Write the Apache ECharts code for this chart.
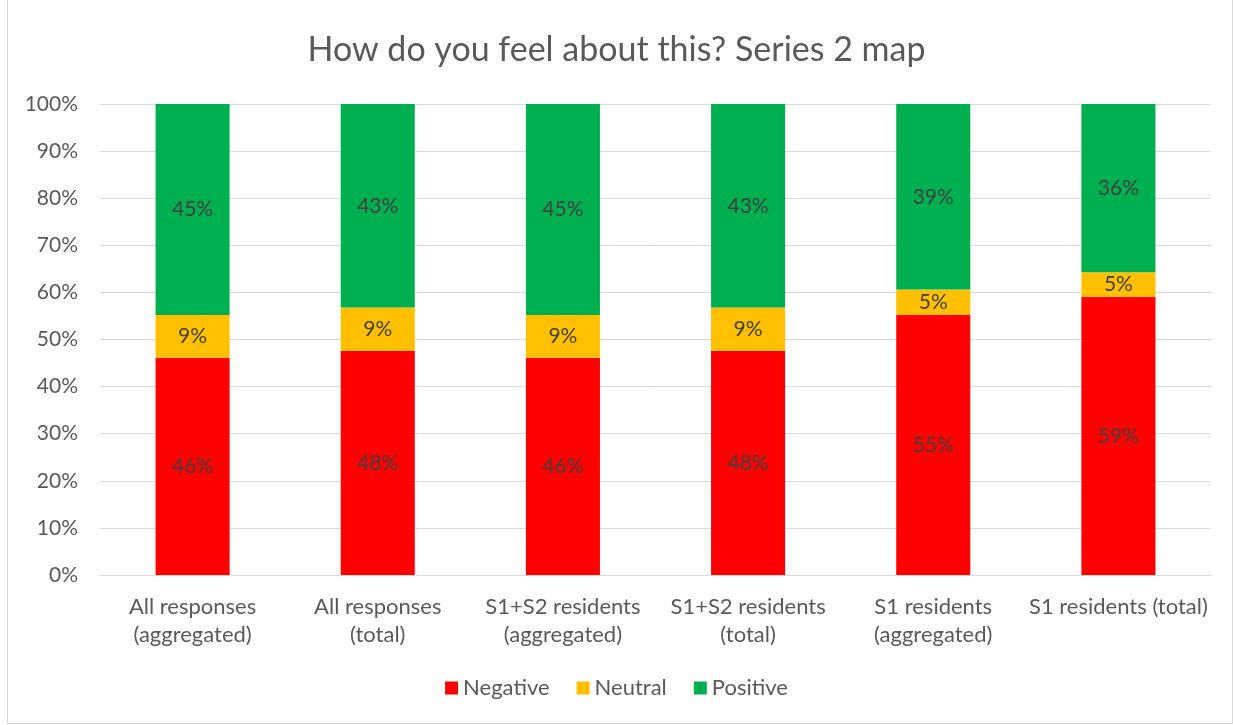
<!DOCTYPE html>
<html>
<head>
<meta charset="utf-8">
<script src="https://cdn.jsdelivr.net/npm/echarts@6/dist/echarts.min.js"></script>
<style>
    html, body { margin: 0; padding: 0; background: #fff; }
    #chart { width: 1233px; height: 725px; position: absolute; left: 0; top: 0; }
    .frame { position: absolute; left: 7px; top: 0; width: 1224px; height: 723px; border: 1px solid #d9d9d9; border-top: none; pointer-events: none; }
</style>
</head>
<body>
<div id="chart"></div>
<div class="frame"></div>
<script>
    // categories and shares (percent)
    var categories = ['All responses\n(aggregated)', 'All responses\n(total)', 'S1+S2 residents\n(aggregated)', 'S1+S2 residents\n(total)', 'S1 residents\n(aggregated)', 'S1 residents (total)'];
    var negative = [46.1, 47.6, 46.1, 47.6, 55.2, 59.1];
    var neutral = [9.1, 9.2, 9.1, 9.2, 5.4, 5.2];
    var positive = [44.8, 43.2, 44.8, 43.2, 39.4, 35.7];
    var yTicks = [0, 10, 20, 30, 40, 50, 60, 70, 80, 90, 100];

    var myChart = echarts.init(document.getElementById('chart'));
    var font = 'Lato, "Open Sans", sans-serif';

    function makeSeries(name, data, color) {
        return {
            name: name,
            type: 'bar',
            stack: 'total',
            barWidth: '40%',
            data: data,
            itemStyle: { color: color },
            label: {
                show: true,
                position: 'inside',
                color: '#404040',
                fontFamily: font,
                fontSize: 21,
                formatter: function (p) { return Math.round(p.value) + '%'; }
            }
        };
    }

    var option = {
        animation: false,
        textStyle: { fontFamily: font },
        title: {
            text: 'How do you feel about this? Series 2 map',
            left: 'center',
            top: 28,
            textStyle: { fontFamily: font, fontSize: 34, fontWeight: 'normal', color: '#595959' }
        },
        legend: {
            bottom: 21,
            left: 'center',
            itemWidth: 13,
            itemHeight: 13,
            itemGap: 27,
            icon: 'rect',
            textStyle: { fontFamily: font, fontSize: 22, color: '#595959' },
            data: ['Negative', 'Neutral', 'Positive']
        },
        grid: { left: 100, right: 22, top: 104, bottom: 150 },
        xAxis: {
            type: 'category',
            data: categories,
            axisLine: { lineStyle: { color: '#d9d9d9' } },
            axisTick: { show: false },
            axisLabel: { color: '#595959', fontFamily: font, fontSize: 22, lineHeight: 28, margin: 18, interval: 0 }
        },
        yAxis: {
            type: 'value',
            min: yTicks[0],
            max: yTicks[yTicks.length - 1],
            interval: 10,
            axisLine: { show: false },
            axisTick: { show: false },
            splitLine: { lineStyle: { color: '#d9d9d9' } },
            axisLabel: { color: '#595959', fontFamily: font, fontSize: 21, margin: 22, formatter: '{value}%' }
        },
        series: [
            makeSeries('Negative', negative, '#ff0000'),
            makeSeries('Neutral', neutral, '#ffc000'),
            makeSeries('Positive', positive, '#00b050')
        ]
    };

    myChart.setOption(option);
</script>
</body>
</html>
